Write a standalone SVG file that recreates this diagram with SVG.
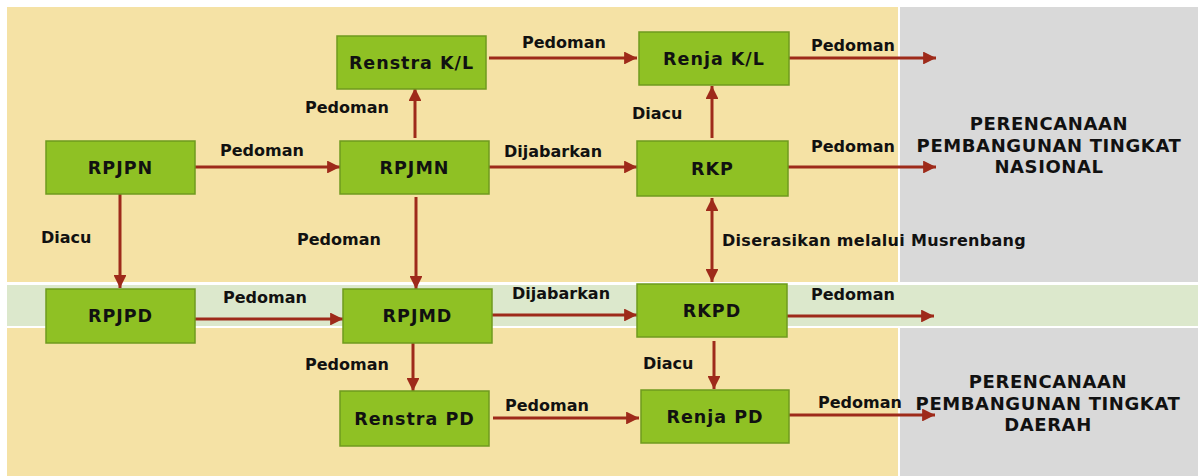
<svg xmlns="http://www.w3.org/2000/svg" width="1202" height="476" viewBox="0 0 1202 476">
<defs>
<style>
.node rect{fill:#8fc124;stroke:#6f9a1e;stroke-width:1.5}
.node text{font-family:"DejaVu Sans",sans-serif;font-weight:bold;font-size:17.5px;letter-spacing:1px;fill:#111;text-anchor:middle}
.lbl{font-family:"DejaVu Sans",sans-serif;font-weight:bold;font-size:16px;fill:#111}
.big{font-family:"DejaVu Sans",sans-serif;font-weight:bold;font-size:18px;letter-spacing:0.6px;fill:#111;text-anchor:middle}
.conn line{stroke:#9e2a1a;stroke-width:3}
</style>
<marker id="ah" viewBox="0 0 10 10" refX="10" refY="5" markerWidth="4.3" markerHeight="4.3" orient="auto-start-reverse" markerUnits="strokeWidth">
<path d="M0,0 L10,5 L0,10 z" fill="#9e2a1a"/>
</marker>
</defs>
<rect width="1202" height="476" fill="#ffffff"/>
<g id="background">
<rect x="7" y="7" width="891" height="275" fill="#f5e2a5"/>
<rect x="900" y="7" width="298" height="275" fill="#d9d9d9"/>
<rect x="7" y="285" width="1191" height="41" fill="#dce8cc"/>
<rect x="7" y="328" width="891" height="148" fill="#f5e2a5"/>
<rect x="900" y="328" width="298" height="148" fill="#d9d9d9"/>
</g>
<g id="connectors" class="conn">
<line x1="195" y1="167" x2="340" y2="167" marker-end="url(#ah)"/>
<line x1="415" y1="138" x2="415" y2="88" marker-end="url(#ah)"/>
<line x1="489" y1="58" x2="637" y2="58" marker-end="url(#ah)"/>
<line x1="489" y1="167" x2="637" y2="167" marker-end="url(#ah)"/>
<line x1="789" y1="58" x2="936" y2="58" marker-end="url(#ah)"/>
<line x1="788" y1="167" x2="936" y2="167" marker-end="url(#ah)"/>
<line x1="712" y1="138" x2="712" y2="86" marker-end="url(#ah)"/>
<line x1="120" y1="194" x2="120" y2="288" marker-end="url(#ah)"/>
<line x1="416" y1="197" x2="416" y2="289" marker-end="url(#ah)"/>
<line x1="712" y1="198" x2="712" y2="282" marker-start="url(#ah)" marker-end="url(#ah)"/>
<line x1="195" y1="319" x2="343" y2="319" marker-end="url(#ah)"/>
<line x1="492" y1="315" x2="637" y2="315" marker-end="url(#ah)"/>
<line x1="787" y1="316" x2="934" y2="316" marker-end="url(#ah)"/>
<line x1="413" y1="343" x2="413" y2="391" marker-end="url(#ah)"/>
<line x1="714" y1="341" x2="714" y2="389" marker-end="url(#ah)"/>
<line x1="493" y1="418" x2="639" y2="418" marker-end="url(#ah)"/>
<line x1="789" y1="415" x2="935" y2="415" marker-end="url(#ah)"/>
</g>
<g id="labels">
<text class="lbl" x="220" y="156">Pedoman</text>
<text class="lbl" x="305" y="113">Pedoman</text>
<text class="lbl" x="522" y="48">Pedoman</text>
<text class="lbl" x="504" y="157">Dijabarkan</text>
<text class="lbl" x="632" y="119">Diacu</text>
<text class="lbl" x="811" y="51">Pedoman</text>
<text class="lbl" x="811" y="152">Pedoman</text>
<text class="lbl" x="41" y="243">Diacu</text>
<text class="lbl" x="297" y="245">Pedoman</text>
<text class="lbl" x="722" y="246" letter-spacing="0.3">Diserasikan melalui Musrenbang</text>
<text class="lbl" x="223" y="303">Pedoman</text>
<text class="lbl" x="512" y="299">Dijabarkan</text>
<text class="lbl" x="811" y="300">Pedoman</text>
<text class="lbl" x="305" y="370">Pedoman</text>
<text class="lbl" x="643" y="369">Diacu</text>
<text class="lbl" x="505" y="411">Pedoman</text>
<text class="lbl" x="818" y="408">Pedoman</text>
</g>
<g id="title-nasional">
<text class="big" x="1049" y="130">PERENCANAAN</text>
<text class="big" x="1049" y="152">PEMBANGUNAN TINGKAT</text>
<text class="big" x="1049" y="173">NASIONAL</text>
</g>
<g id="title-daerah">
<text class="big" x="1048" y="388">PERENCANAAN</text>
<text class="big" x="1048" y="410">PEMBANGUNAN TINGKAT</text>
<text class="big" x="1048" y="431">DAERAH</text>
</g>
<g id="node-rpjpn" class="node"><rect x="46" y="141" width="149" height="53"/><text x="120.5" y="174">RPJPN</text></g>
<g id="node-rpjmn" class="node"><rect x="340" y="141" width="149" height="53"/><text x="414.5" y="174">RPJMN</text></g>
<g id="node-renstra-kl" class="node"><rect x="337" y="36" width="149" height="53"/><text x="411.5" y="69">Renstra K/L</text></g>
<g id="node-renja-kl" class="node"><rect x="639" y="32" width="150" height="53"/><text x="714" y="65">Renja K/L</text></g>
<g id="node-rkp" class="node"><rect x="637" y="141" width="151" height="55"/><text x="712.5" y="175">RKP</text></g>
<g id="node-rpjpd" class="node"><rect x="46" y="289" width="149" height="54"/><text x="120.5" y="322">RPJPD</text></g>
<g id="node-rpjmd" class="node"><rect x="343" y="289" width="149" height="54"/><text x="417.5" y="322">RPJMD</text></g>
<g id="node-rkpd" class="node"><rect x="637" y="284" width="150" height="53"/><text x="712" y="317">RKPD</text></g>
<g id="node-renstra-pd" class="node"><rect x="340" y="391" width="149" height="55"/><text x="414.5" y="425">Renstra PD</text></g>
<g id="node-renja-pd" class="node"><rect x="641" y="390" width="148" height="53"/><text x="715" y="423">Renja PD</text></g>
</svg>
